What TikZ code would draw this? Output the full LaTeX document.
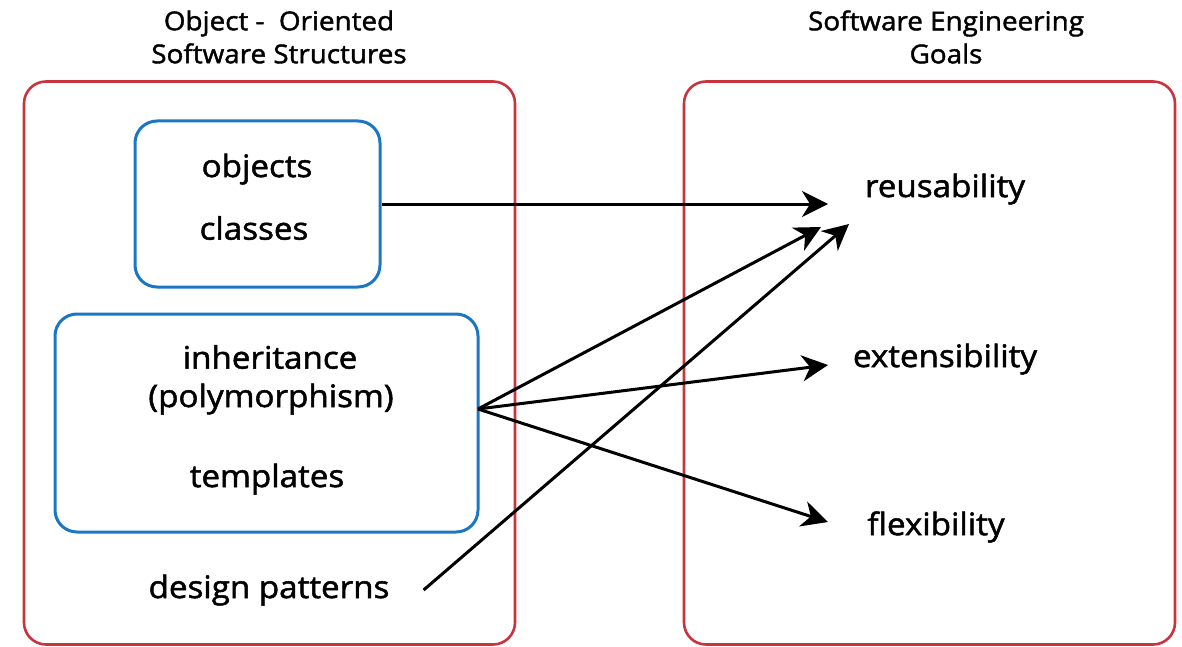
\documentclass[tikz,border=0pt]{standalone}
\usepackage{fontspec}
\setmainfont{Open Sans}[FakeStretch=1.07,FakeBold=1.6]
\usetikzlibrary{arrows.meta,positioning}
\definecolor{boxred}{RGB}{200,52,62}
\definecolor{boxblue}{RGB}{28,118,198}

\begin{document}
\begin{tikzpicture}[x=1pt,y=-1pt,>={Stealth[length=26pt,width=26pt,inset=8pt]},
	group/.style={draw=boxred,line width=2.6pt,rounded corners=22pt},
	part/.style={draw=boxblue,line width=3pt,rounded corners=22pt},
	item/.style={font=\fontsize{31}{37}\selectfont,inner sep=0pt},
	heading/.style={font=\fontsize{26}{33}\selectfont,align=center,inner sep=0pt},
	link/.style={->,line width=3pt}]
			\useasboundingbox (0,0) rectangle (1182,647);

			% the two outer frames and their headings
			\node	[group,minimum width=491pt,minimum height=563pt]	(oos)	at (269.5,363)	{};
			\node	[group,minimum width=491pt,minimum height=563pt]	(seg)	at (929.5,363)	{};
			\node	[heading]	(oostitle)	at (279,37)	{Object -\ \ Oriented\\Software Structures};
			\node	[heading]	(segtitle)	at (946,37)	{Software Engineering\\Goals};

			% structures
			\node	[part,minimum width=245pt,minimum height=166pt]	(classbox)	at (257.5,204)	{};
			\node	[part,minimum width=423pt,minimum height=218pt]	(inhbox)	at (266.5,423)	{};
			\node	[item]	(objects)		at (257,169)	{objects};
			\node	[item]	(classes)		at (254,228)	{classes};
			\node	[item]	(inherit)		at (270,357)	{inheritance};
			\node	[item]	(poly)			at (271,399)	{(polymorphism)};
			\node	[item]	(templates)		at (267,479)	{templates};
			\node	[item,inner xsep=34pt]	(design)	at (269,590)	{design patterns};

			% goals
			\node	[item]	(reuse)		at (945,189)	{reusability};
			\node	[item]	(extend)	at (945,359)	{extensibility};
			\node	[item]	(flex)		at (936,527)	{flexibility};

			\coordinate	(fork)	at (478,409);
			\coordinate	(r1)	at (828,204);
			\coordinate	(r2)	at (821,227);
			\coordinate	(r3)	at (849,224);
			\coordinate	(e1)	at (828,365);
			\coordinate	(f1)	at (828,522);

			\path
				(classbox.east)	edge	[link]	(r1)
				(fork)			edge	[link]	(r2)
				(fork)			edge	[link]	(e1)
				(fork)			edge	[link]	(f1)
				(design.east)	edge	[link]	(r3)
			;
		\end{tikzpicture}
\end{document}
